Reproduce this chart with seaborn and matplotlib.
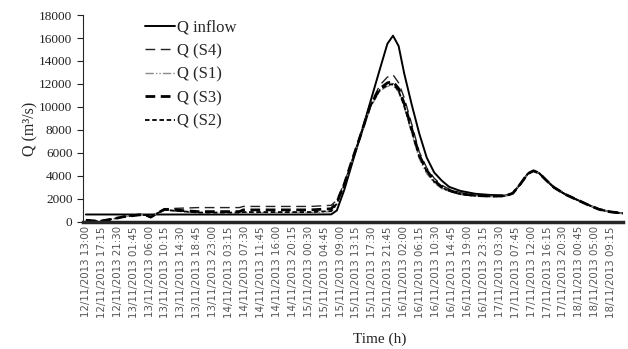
import numpy as np
import pandas as pd
import matplotlib
matplotlib.use("Agg")
import matplotlib.pyplot as plt
import seaborn as sns

# tempo in ore dall'inizio (12/11/2013 13:00)
ore = [0, 2, 3.7, 7, 10, 14.3, 16, 17.3, 19, 21,
       30, 41, 42, 50, 60, 65.5, 67, 69, 71, 73.5,
       76, 78.5, 80.5, 82, 83.5, 85, 87, 89, 91, 93,
       95, 97, 100, 104, 108, 112, 114, 116, 118, 119.5,
       121, 123, 125, 128, 131, 134, 137, 140, 143.4]

q_inflow = [650, 650, 650, 650, 650, 650, 650, 650, 650, 650,
            650, 650, 650, 650, 650, 660, 1000, 2800, 5000, 7700,
            10500, 13300, 15500, 16200, 15300, 12900, 10200, 7700, 5600, 4300,
            3600, 3050, 2700, 2450, 2350, 2300, 2500, 3300, 4200, 4450,
            4250, 3600, 3000, 2400, 1950, 1500, 1100, 880, 750]

q_s4 = [150, 100, 60, 250, 450, 620, 600, 420, 750, 1150,
        1250, 1250, 1350, 1350, 1350, 1450, 1900, 3400, 5300, 7800,
        10300, 11900, 12600, 12800, 12100, 10800, 8500, 6100, 4700, 3800,
        3200, 2850, 2550, 2350, 2300, 2280, 2500, 3300, 4200, 4450,
        4250, 3600, 3000, 2400, 1950, 1500, 1100, 880, 750]

q_s1 = [150, 100, 60, 250, 450, 620, 600, 420, 750, 1050,
        750, 750, 800, 800, 800, 900, 1500, 3200, 5200, 7600,
        10000, 11400, 11800, 11900, 11300, 10000, 7700, 5500, 4200, 3400,
        2900, 2650, 2400, 2250, 2200, 2250, 2500, 3300, 4200, 4450,
        4250, 3600, 3000, 2400, 1950, 1500, 1100, 880, 750]

q_s3 = [150, 100, 60, 250, 450, 620, 600, 420, 750, 1100,
        900, 900, 1050, 1050, 1050, 1150, 1700, 3300, 5300, 7700,
        10200, 11600, 12100, 12200, 11600, 10300, 8100, 5800, 4500, 3600,
        3050, 2750, 2450, 2300, 2250, 2260, 2500, 3300, 4200, 4450,
        4250, 3600, 3000, 2400, 1950, 1500, 1100, 880, 750]

q_s2 = [150, 100, 60, 250, 450, 620, 600, 420, 750, 1050,
        820, 820, 860, 860, 860, 950, 1600, 3250, 5250, 7650,
        10100, 11500, 11900, 12000, 11400, 10100, 7900, 5700, 4400, 3500,
        3000, 2700, 2420, 2280, 2230, 2250, 2500, 3300, 4200, 4450,
        4250, 3600, 3000, 2400, 1950, 1500, 1100, 880, 750]

etichette_x = ["12/11/2013 13:00", "12/11/2013 17:15", "12/11/2013 21:30",
               "13/11/2013 01:45", "13/11/2013 06:00", "13/11/2013 10:15",
               "13/11/2013 14:30", "13/11/2013 18:45", "13/11/2013 23:00",
               "14/11/2013 03:15", "14/11/2013 07:30", "14/11/2013 11:45",
               "14/11/2013 16:00", "14/11/2013 20:15", "15/11/2013 00:30",
               "15/11/2013 04:45", "15/11/2013 09:00", "15/11/2013 13:15",
               "15/11/2013 17:30", "15/11/2013 21:45", "16/11/2013 02:00",
               "16/11/2013 06:15", "16/11/2013 10:30", "16/11/2013 14:45",
               "16/11/2013 19:00", "16/11/2013 23:15", "17/11/2013 03:30",
               "17/11/2013 07:45", "17/11/2013 12:00", "17/11/2013 16:15",
               "17/11/2013 20:30", "18/11/2013 00:45", "18/11/2013 05:00",
               "18/11/2013 09:15"]
passo_etichette = 4.25  # ore tra due etichette

sns.set_style("ticks")
plt.rcParams['font.family'] = ['Liberation Serif', 'DejaVu Serif']

df = pd.DataFrame({'ore': ore, 'Q inflow': q_inflow, 'Q (S4)': q_s4,
                   'Q (S1)': q_s1, 'Q (S3)': q_s3, 'Q (S2)': q_s2})

# stile di ogni serie: colore, spessore, tratteggio
stili = {
    'Q inflow': ('black', 1.4, (None, None)),
    'Q (S4)': ('#222222', 1.0, (7, 4)),
    'Q (S1)': ('#8a8a8a', 1.0, (6, 1.5, 1, 1.5, 1, 1.5)),
    'Q (S3)': ('black', 2.0, (3.5, 2)),
    'Q (S2)': ('black', 1.3, (2.5, 1.5)),
}

fig, ax = plt.subplots(figsize=(6.28, 3.49), dpi=100)
fig.subplots_adjust(left=0.132, right=0.992, top=0.957, bottom=0.364)

for nome, (colore, lw, dash) in stili.items():
    sns.lineplot(data=df, x='ore', y=nome, ax=ax, color=colore, linewidth=lw, label=nome)
    if dash[0] is not None:
        ax.lines[-1].set_dashes(dash)

ax.set_xlim(-0.8, 143.4)
ax.set_ylim(0, 18000)
ax.set_yticks(np.arange(0, 18001, 2000))
ax.set_xticks(np.arange(len(etichette_x)) * passo_etichette)
ax.set_xticklabels(etichette_x, rotation=90, fontsize=7.4, color='#555555',
                   family=['DejaVu Sans'])
ax.tick_params(axis='x', length=0, pad=3)
ax.tick_params(axis='y', labelsize=9.5, length=4, width=0.8, colors='#222222')

ax.spines['top'].set_visible(False)
ax.spines['right'].set_visible(False)
ax.spines['bottom'].set_linewidth(2.5)
ax.spines['left'].set_linewidth(0.8)

ax.set_ylabel('Q (m³/s)', fontsize=11.5)
ax.yaxis.set_label_coords(-0.083, 0.45)
ax.set_xlabel('Time (h)', fontsize=11)
ax.xaxis.set_label_coords(0.55, -0.535)

leg = ax.legend(loc='upper left', bbox_to_anchor=(0.088, 1.05), frameon=False,
                fontsize=12, handlelength=1.8, handletextpad=0.1, labelspacing=0.45)

plt.savefig('out.png', dpi=100)
